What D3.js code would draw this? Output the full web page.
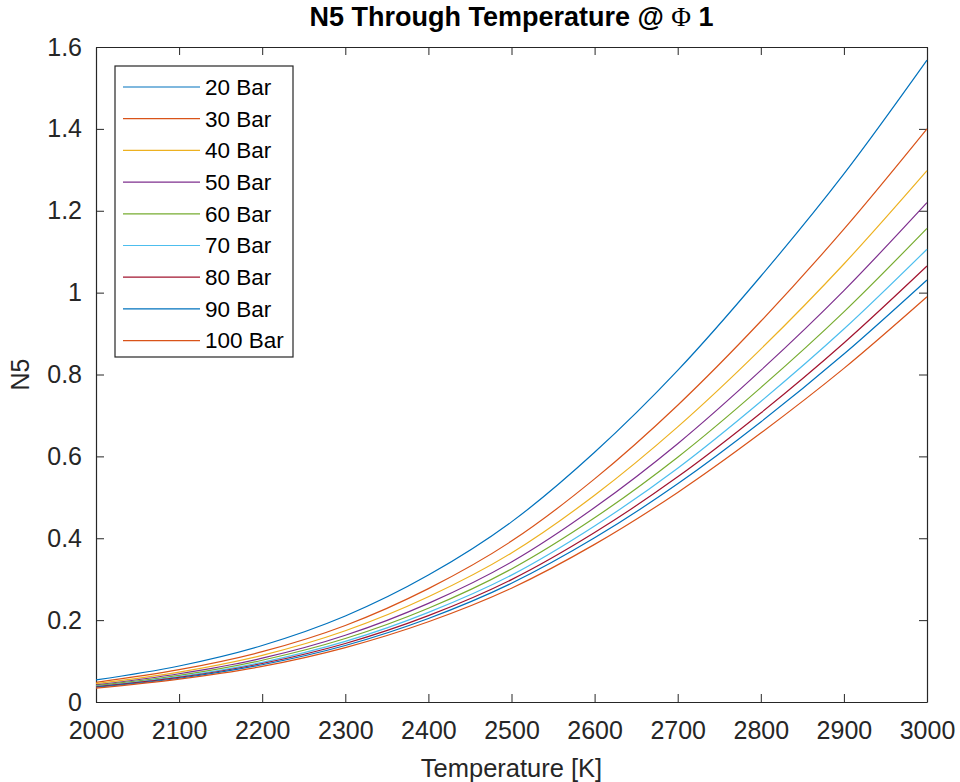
<!DOCTYPE html>
<html><head><meta charset="utf-8">
<script src="https://cdn.jsdelivr.net/npm/d3@7"></script>
<style>body{margin:0;background:#fff}svg{display:block}</style>
</head><body>
<script>
const temperatures = [2000,2100,2200,2300,2400,2500,2600,2700,2800,2900,3000];
const seriesNames = ["20 Bar","30 Bar","40 Bar","50 Bar","60 Bar","70 Bar","80 Bar","90 Bar","100 Bar"];
const bar20  = [0.054,0.088,0.138,0.210,0.310,0.440,0.610,0.810,1.040,1.290,1.568];
const bar30  = [0.048,0.079,0.123,0.187,0.277,0.393,0.545,0.725,0.930,1.155,1.400];
const bar40  = [0.045,0.073,0.114,0.174,0.257,0.364,0.505,0.672,0.862,1.070,1.298];
const bar50  = [0.042,0.069,0.107,0.163,0.241,0.342,0.475,0.631,0.810,1.005,1.220];
const bar60  = [0.040,0.065,0.102,0.155,0.229,0.325,0.450,0.598,0.768,0.953,1.157];
const bar70  = [0.038,0.062,0.097,0.148,0.219,0.310,0.430,0.571,0.734,0.911,1.106];
const bar80  = [0.037,0.060,0.094,0.143,0.211,0.299,0.414,0.550,0.706,0.877,1.065];
const bar90  = [0.036,0.058,0.091,0.138,0.204,0.290,0.401,0.533,0.684,0.850,1.031];
const bar100 = [0.034,0.056,0.087,0.133,0.196,0.278,0.385,0.512,0.657,0.815,0.990];
const xTicks = [2000,2100,2200,2300,2400,2500,2600,2700,2800,2900,3000];
const yTicks = [0,0.2,0.4,0.6,0.8,1,1.2,1.4,1.6];
const colors = ["#0072BD","#D95319","#EDB120","#7E2F8E","#77AC30","#4DBEEE","#A2142F","#0072BD","#D95319"];
const allSeries = [bar20,bar30,bar40,bar50,bar60,bar70,bar80,bar90,bar100];

const W=960,H=782;
const m={left:96,right:W-927,top:47,bottom:H-702};
const svg=d3.select("body").append("svg").attr("width",W).attr("height",H)
  .style("font-family","'Liberation Sans',Arial,sans-serif");
const x=d3.scaleLinear().domain([2000,3000]).range([m.left,W-m.right]);
const y=d3.scaleLinear().domain([0,1.6]).range([H-m.bottom,m.top]);
const fmt=d=>String(d);
const tickLen=8, fs=25;

// axes
const gx=svg.append("g").attr("transform",`translate(0,${y(0)})`)
  .call(d3.axisBottom(x).tickValues(xTicks).tickFormat(fmt).tickSizeInner(-tickLen).tickSizeOuter(0).tickPadding(19));
const gxt=svg.append("g").attr("transform",`translate(0,${y(1.6)})`)
  .call(d3.axisTop(x).tickValues(xTicks).tickFormat("").tickSizeInner(-tickLen).tickSizeOuter(0));
const gy=svg.append("g").attr("transform",`translate(${x(2000)},0)`)
  .call(d3.axisLeft(y).tickValues(yTicks).tickFormat(fmt).tickSizeInner(-tickLen).tickSizeOuter(0).tickPadding(14));
const gyr=svg.append("g").attr("transform",`translate(${x(3000)},0)`)
  .call(d3.axisRight(y).tickValues(yTicks).tickFormat("").tickSizeInner(-tickLen).tickSizeOuter(0));
[gx,gxt,gy,gyr].forEach(g=>{
  g.select(".domain").attr("stroke","#262626").attr("stroke-width",1.2);
  g.selectAll(".tick line").attr("stroke","#262626");
  g.selectAll("text").attr("font-size",fs).attr("fill","#262626").style("font-family","'Liberation Sans',Arial,sans-serif");
});

// lines
const line=d3.line().x((d,i)=>x(temperatures[i])).y(d=>y(d)).curve(d3.curveMonotoneX);
svg.append("g").selectAll("path").data(allSeries).join("path")
  .attr("d",line).attr("fill","none").attr("stroke",(d,i)=>colors[i]).attr("stroke-width",1.2);

// legend
const lg=svg.append("g");
lg.append("rect").attr("x",115).attr("y",66).attr("width",178).attr("height",291)
  .attr("fill","#fff").attr("stroke","#262626").attr("stroke-width",1.2);
seriesNames.forEach((n,i)=>{
  const cy=87+i*31.7;
  lg.append("line").attr("x1",123).attr("x2",200).attr("y1",cy).attr("y2",cy)
    .attr("stroke",colors[i]).attr("stroke-width",1.2);
  lg.append("text").attr("x",205).attr("y",cy).attr("dy","0.35em")
    .attr("font-size",22.5).attr("fill","#000").text(n);
});

// title and labels
const t=svg.append("text").attr("x",(x(2000)+x(3000))/2).attr("y",26).attr("text-anchor","middle")
  .attr("font-size",27).attr("font-weight","bold").attr("fill","#000");
t.append("tspan").text("N5 Through Temperature @ ");
t.append("tspan").style("font-family","'Liberation Serif','Times New Roman',serif").attr("font-weight","normal").text("Φ");
t.append("tspan").text(" 1");
svg.append("text").attr("x",(x(2000)+x(3000))/2).attr("y",777).attr("text-anchor","middle")
  .attr("font-size",25.5).attr("fill","#262626").text("Temperature [K]");
svg.append("text").attr("transform",`translate(29,${(y(0)+y(1.6))/2}) rotate(-90)`).attr("text-anchor","middle")
  .attr("font-size",25).attr("fill","#262626").text("N5");
</script>
</body></html>
